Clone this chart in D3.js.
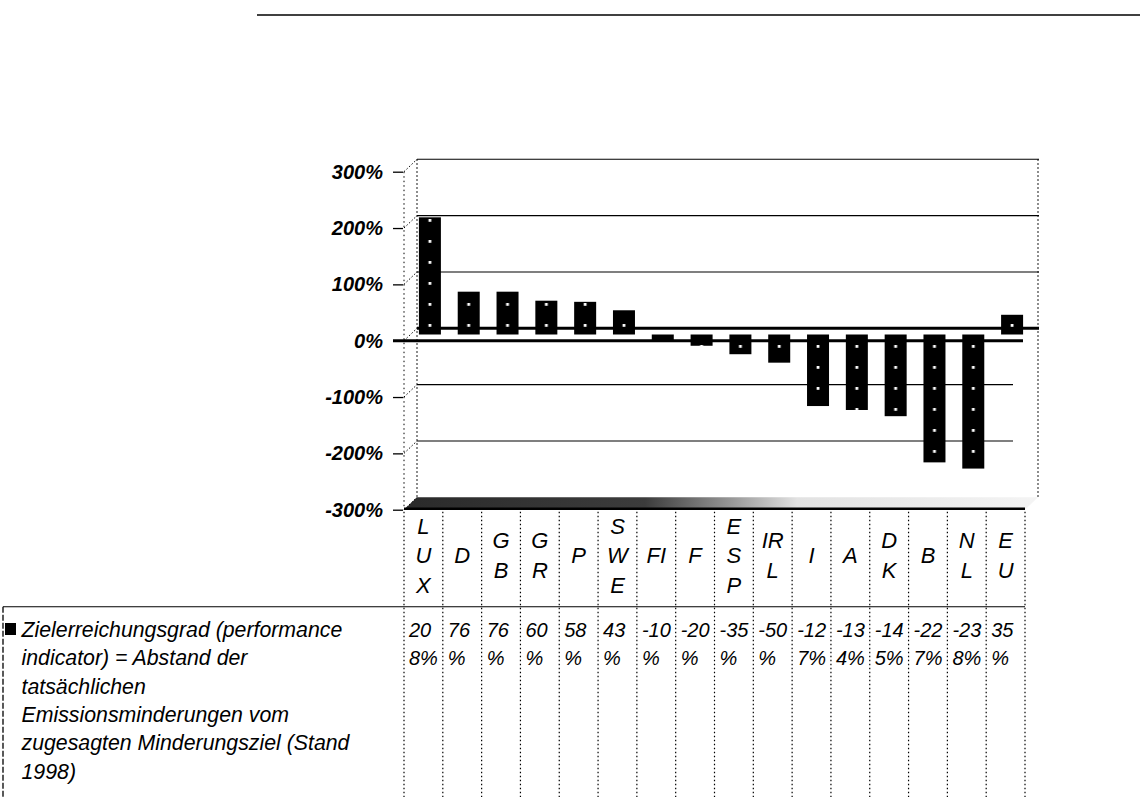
<!DOCTYPE html>
<html>
<head>
<meta charset="utf-8">
<script src="https://cdn.jsdelivr.net/npm/d3@7"></script>
<style>
  html, body { margin: 0; padding: 0; background: #fff; }
  svg { display: block; }
  text { font-family: "Liberation Sans", Arial, sans-serif; fill: #000; }
</style>
</head>
<body>
<svg id="chart" width="1140" height="797"></svg>
<script>
// Zielerreichungsgrad der EU-Mitgliedstaaten (Stand 1998)
const categories = ["LUX", "D", "GB", "GR", "P", "SWE", "FI", "F", "ESP", "IRL", "I", "A", "DK", "B", "NL", "EU"];
const values     = [208, 76, 76, 60, 58, 43, -10, -20, -35, -50, -127, -134, -145, -227, -238, 35];
const yTicks     = [300, 200, 100, 0, -100, -200, -300];
const legendLines = [
  "Zielerreichungsgrad (performance",
  "indicator) = Abstand der",
  "tatsächlichen",
  "Emissionsminderungen vom",
  "zugesagten Minderungsziel (Stand",
  "1998)"
];

const svg = d3.select("#chart");
const W = 1140, H = 797;

// 3-D depth of the plot box: back wall sits up and to the right of the front axis
const depthX = 13, depthY = -12.4;

const x = d3.scaleBand().domain(categories).range([404, 1025]).padding(0);
const y = d3.scaleLinear().domain([-300, 300]).range([509.7, 171.7]);
const step = x.step();
const barW = 22;
const barX = c => x(c) + step / 2 + depthX / 2 - barW / 2;
const pct = v => `${v}%`;

// dotted fill of the columns
const defs = svg.append("defs");
const pat = defs.append("pattern")
  .attr("id", "dots")
  .attr("patternUnits", "userSpaceOnUse")
  .attr("x", barX(categories[0])).attr("y", 0)
  .attr("width", step).attr("height", 21);
pat.append("rect").attr("width", step).attr("height", 21).attr("fill", "#000");
pat.append("rect").attr("x", barW / 2 - 1.4).attr("y", 9).attr("width", 2.8).attr("height", 2.8).attr("fill", "#fff");

const floorGrad = defs.append("linearGradient").attr("id", "floorGrad")
  .attr("x1", "0%").attr("x2", "100%").attr("y1", "0%").attr("y2", "0%");
[["0%", "#2a2a2a"], ["38%", "#3c3c3c"], ["52%", "#9a9a9a"], ["62%", "#e2e2e2"], ["100%", "#f4f4f4"]]
  .forEach(([o, c]) => floorGrad.append("stop").attr("offset", o).attr("stop-color", c));

// page rule at the top
svg.append("line").attr("x1", 257).attr("x2", W).attr("y1", 15).attr("y2", 15)
  .attr("stroke", "#000").attr("stroke-width", 1.5);

const x0 = x.range()[0], x1 = x.range()[1];

// floor of the 3-D box
const yF = y(-300), yB = y(-300) + depthY;
svg.append("path")
  .attr("d", `M${x0},${yF} L${x0 + depthX},${yB} L${x1 + depthX},${yB} L${x1},${yF} Z`)
  .attr("fill", "url(#floorGrad)");
svg.append("line").attr("x1", x0).attr("x2", x1).attr("y1", yF - 1).attr("y2", yF - 1)
  .attr("stroke", "#000").attr("stroke-width", 2.5);

// back-wall gridlines
svg.append("g").selectAll("line")
  .data(yTicks.filter(v => v !== 0 && v !== -300))
  .join("line")
  .attr("x1", x0 + depthX).attr("x2", d => d > 0 ? x1 + depthX + 1 : x1 - 12)
  .attr("y1", d => y(d) + depthY).attr("y2", d => y(d) + depthY)
  .attr("stroke", "#000").attr("stroke-width", 1.1);

// back-wall edges (dotted)
svg.append("line").attr("x1", x0 + depthX).attr("x2", x0 + depthX)
  .attr("y1", y(300) + depthY).attr("y2", yB)
  .attr("stroke", "#000").attr("stroke-width", 1.2).attr("stroke-dasharray", "1.5,2.5");
svg.append("line").attr("x1", x1 + depthX).attr("x2", x1 + depthX)
  .attr("y1", y(300) + depthY).attr("y2", yB)
  .attr("stroke", "#000").attr("stroke-width", 1.2).attr("stroke-dasharray", "1.5,2.5");

// front axis line and the slanted links to the back wall
svg.append("line").attr("x1", x0).attr("x2", x0)
  .attr("y1", y(300)).attr("y2", y(-300))
  .attr("stroke", "#000").attr("stroke-width", 1).attr("stroke-dasharray", "1.5,3");
svg.append("g").selectAll("line").data(yTicks).join("line")
  .attr("x1", x0).attr("y1", d => y(d))
  .attr("x2", x0 + depthX).attr("y2", d => y(d) + depthY)
  .attr("stroke", "#000").attr("stroke-width", 1).attr("stroke-dasharray", "1.5,2");

// back zero line
svg.append("line").attr("x1", x0 + depthX).attr("x2", x1 + depthX + 1)
  .attr("y1", y(0) + depthY).attr("y2", y(0) + depthY)
  .attr("stroke", "#000").attr("stroke-width", 3);

// columns, standing at mid depth
svg.append("g").selectAll("rect")
  .data(categories.map((c, i) => ({ c, v: values[i] })))
  .join("rect")
  .attr("x", d => barX(d.c))
  .attr("width", barW)
  .attr("y", d => y(Math.max(0, d.v)) + depthY / 2)
  .attr("height", d => Math.abs(y(d.v) - y(0)))
  .attr("fill", "url(#dots)");

// front zero line
svg.append("line").attr("x1", 393).attr("x2", x1 - 2)
  .attr("y1", y(0)).attr("y2", y(0))
  .attr("stroke", "#000").attr("stroke-width", 3);

// y axis ticks and labels
const yAxis = d3.axisLeft(y).tickValues(yTicks).tickFormat(pct).tickSize(10).tickPadding(10);
const gy = svg.append("g").attr("transform", `translate(${x0 - 1},0)`).call(yAxis);
gy.select(".domain").remove();
gy.selectAll(".tick line").attr("stroke", "#000").attr("stroke-width", 1.3);
gy.selectAll(".tick text")
  .style("font-family", '"Liberation Sans", Arial, sans-serif')
  .style("font-size", "20px").style("font-weight", "bold").style("font-style", "italic")
  .attr("fill", "#000");

// ---- data table ----
const headTop = yF, headBot = 606.7, tableBot = H;

// helper: break a string into lines by measured width (character level)
const measurer = svg.append("text").attr("visibility", "hidden");
function wrapChars(str, size, maxW) {
  measurer.style("font-size", size + "px").style("font-style", "italic");
  const lines = [];
  let cur = "";
  for (const ch of str) {
    const test = cur + ch;
    measurer.text(test);
    if (cur && measurer.node().getComputedTextLength() > maxW) {
      lines.push(cur);
      cur = ch;
    } else cur = test;
  }
  if (cur) lines.push(cur);
  return lines;
}

// column separators (dotted)
const seps = categories.map(c => x(c)).concat([x1]);
svg.append("g").selectAll("line").data(seps).join("line")
  .attr("x1", d => d).attr("x2", d => d)
  .attr("y1", headTop + 2).attr("y2", tableBot)
  .attr("stroke", "#000").attr("stroke-width", 1.2).attr("stroke-dasharray", "1.5,2.5");

// row divider
svg.append("line").attr("x1", 3).attr("x2", x1).attr("y1", headBot).attr("y2", headBot)
  .attr("stroke", "#000").attr("stroke-width", 1.1);

// legend box edge (dashed)
svg.append("line").attr("x1", 3).attr("x2", 3).attr("y1", headBot).attr("y2", tableBot)
  .attr("stroke", "#000").attr("stroke-width", 1.3).attr("stroke-dasharray", "6,2");

// category labels
const labelSize = 22, labelLH = 29.5, labelMid = 555;
const gl = svg.append("g").style("font-style", "italic").style("font-size", labelSize + "px");
categories.forEach(c => {
  const lines = wrapChars(c, labelSize, 26);
  const t = gl.append("text")
    .attr("text-anchor", "middle")
    .attr("dominant-baseline", "central");
  lines.forEach((ln, k) => {
    t.append("tspan")
      .attr("x", x(c) + step / 2)
      .attr("y", labelMid + (k - (lines.length - 1) / 2) * labelLH)
      .text(ln);
  });
});

// values row
const valSize = 20, rowLH = 28.3, rowY0 = 630;
const gv = svg.append("g").style("font-style", "italic").style("font-size", valSize + "px");
categories.forEach((c, i) => {
  const lines = wrapChars(pct(values[i]), valSize, 30);
  const t = gv.append("text").attr("dominant-baseline", "central");
  lines.forEach((ln, k) => {
    t.append("tspan").attr("x", x(c) + 5).attr("y", rowY0 + k * rowLH).text(ln);
  });
});

// legend key and text
svg.append("rect").attr("x", 5).attr("y", 623).attr("width", 11).attr("height", 12).attr("fill", "#000");
const lg = svg.append("text").style("font-style", "italic").style("font-size", "21.3px")
  .attr("dominant-baseline", "central");
legendLines.forEach((ln, k) => {
  lg.append("tspan").attr("x", 21.5).attr("y", rowY0 + k * rowLH).text(ln);
});

measurer.remove();
</script>
</body>
</html>
